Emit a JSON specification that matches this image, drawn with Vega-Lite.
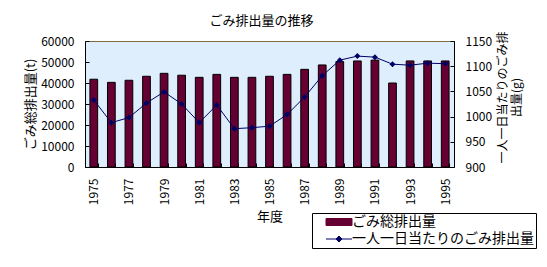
{
  "$schema": "https://vega.github.io/schema/vega-lite/v6.json",
  "width": 369,
  "height": 126,
  "autosize": "none",
  "padding": {"left": 85, "top": 41, "right": 93, "bottom": 100},
  "background": "white",
  "config": {
    "font": "Noto Sans CJK JP",
    "view": {"fill": "#deeefc", "stroke": "#807040", "strokeWidth": 1},
    "axis": {"labelFont": "Noto Sans CJK JP", "titleFont": "Noto Sans CJK JP", "labelColor": "black", "titleColor": "black", "domainColor": "black", "tickColor": "black", "labelFontSize": 12, "titleFontSize": 13, "titleFontWeight": "normal", "grid": false}
  },
  "title": {"text": "ごみ排出量の推移", "fontSize": 13, "fontWeight": "normal", "font": "Noto Sans CJK JP", "anchor": "middle", "dx": -8, "offset": 3, "color": "black"},
  "data": {"values": [
    {"year": 1975, "total": 41800, "perCapita": 1033},
    {"year": 1976, "total": 40300, "perCapita": 988},
    {"year": 1977, "total": 41300, "perCapita": 998},
    {"year": 1978, "total": 43200, "perCapita": 1027},
    {"year": 1979, "total": 44600, "perCapita": 1049},
    {"year": 1980, "total": 43700, "perCapita": 1025},
    {"year": 1981, "total": 42700, "perCapita": 988},
    {"year": 1982, "total": 44100, "perCapita": 1023},
    {"year": 1983, "total": 42700, "perCapita": 976},
    {"year": 1984, "total": 42700, "perCapita": 978},
    {"year": 1985, "total": 43200, "perCapita": 981},
    {"year": 1986, "total": 44100, "perCapita": 1004},
    {"year": 1987, "total": 46500, "perCapita": 1039},
    {"year": 1988, "total": 48600, "perCapita": 1081},
    {"year": 1989, "total": 50200, "perCapita": 1112},
    {"year": 1990, "total": 50500, "perCapita": 1120},
    {"year": 1991, "total": 50900, "perCapita": 1118},
    {"year": 1992, "total": 40000, "perCapita": 1104},
    {"year": 1993, "total": 50500, "perCapita": 1102},
    {"year": 1994, "total": 50500, "perCapita": 1106},
    {"year": 1995, "total": 50500, "perCapita": 1105}
  ]},
  "encoding": {
    "x": {
      "field": "year", "type": "ordinal",
      "scale": {"paddingInner": 0.56, "paddingOuter": 0.28},
      "axis": {"title": "年度", "labelAngle": -90, "tickBand": "extent", "tickSize": -4, "labelPadding": 15, "titlePadding": 6,
        "labelExpr": "datum.value % 2 == 1 ? datum.label : ''"}
    }
  },
  "layer": [
    {
      "mark": {"type": "bar", "stroke": "black", "strokeWidth": 1},
      "encoding": {
        "y": {"field": "total", "type": "quantitative",
          "scale": {"domain": [0, 60000], "nice": false},
          "axis": {"title": "ごみ総排出量(t)", "values": [0, 10000, 20000, 30000, 40000, 50000, 60000], "format": "d", "tickSize": -4, "labelPadding": 15, "titlePadding": 3}},
        "color": {"datum": "ごみ総排出量", "type": "nominal",
          "scale": {"domain": ["ごみ総排出量", "一人一日当たりのごみ排出量"], "range": ["#660033", "#000066"]},
          "legend": {
            "title": null, "orient": "none", "legendX": 227, "legendY": 172,
            "strokeColor": "black", "fillColor": "white", "padding": 2,
            "labelFont": "Noto Sans CJK JP", "labelFontSize": 14, "labelColor": "black", "labelOffset": 6, "labelLimit": 400,
            "rowPadding": 3, "symbolSize": 100, "symbolOffset": 18, "symbolOpacity": 1, "symbolStrokeWidth": 1
          }}
      }
    },
    {
      "mark": {"type": "line", "color": "#000066", "strokeWidth": 1, "point": {"size": 100, "filled": true, "color": "#000066"}},
      "encoding": {
        "y": {"field": "perCapita", "type": "quantitative",
          "scale": {"domain": [900, 1150], "nice": false, "zero": false},
          "axis": {"orient": "right", "title": ["一人一日当たりのごみ排", "出量(g)"], "titleAngle": -90, "titleFontSize": 12, "values": [900, 950, 1000, 1050, 1100, 1150], "format": "d", "tickSize": -4, "labelPadding": 15, "titleX": 48, "titleY": 56, "titleAlign": "center", "titleBaseline": "middle"}},
        "color": {"datum": "一人一日当たりのごみ排出量", "type": "nominal"},
        "shape": {"datum": "一人一日当たりのごみ排出量", "type": "nominal",
          "scale": {"domain": ["ごみ総排出量", "一人一日当たりのごみ排出量"], "range": ["M-2.6,-0.7H2.6V0.7H-2.6Z", "M-2.6,0H2.6M0,-0.6L0.6,0L0,0.6L-0.6,0Z"]},
          "legend": {
            "title": null, "orient": "none", "legendX": 227, "legendY": 172,
            "strokeColor": "black", "fillColor": "white", "padding": 2,
            "labelFont": "Noto Sans CJK JP", "labelFontSize": 14, "labelColor": "black", "labelOffset": 6, "labelLimit": 400,
            "rowPadding": 3, "symbolSize": 100, "symbolOffset": 18, "symbolOpacity": 1, "symbolStrokeWidth": 1
          }}
      }
    }
  ],
  "resolve": {"scale": {"y": "independent"}}
}
